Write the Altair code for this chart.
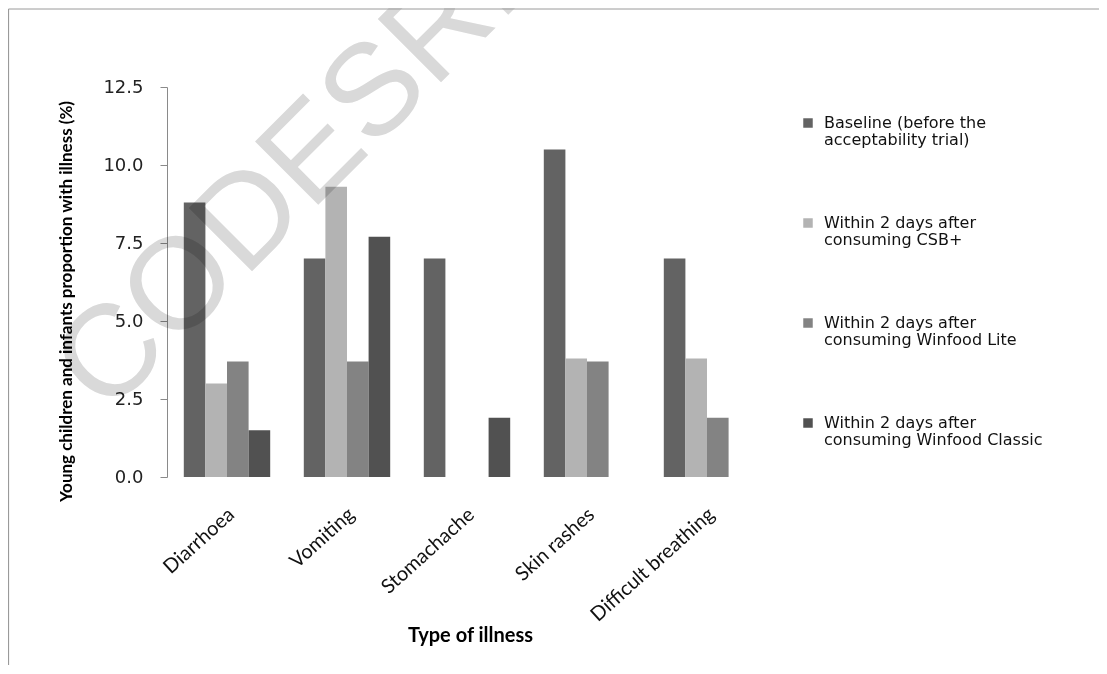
import altair as alt
import pandas as pd

illnesses = ["Diarrhoea", "Vomiting", "Stomachache", "Skin rashes", "Difficult breathing"]
series = [
    "Baseline (before the acceptability trial)",
    "Within 2 days after consuming CSB+",
    "Within 2 days after consuming Winfood Lite",
    "Within 2 days after consuming Winfood Classic",
]
series_line1 = ["Baseline (before the", "Within 2 days after", "Within 2 days after", "Within 2 days after"]
series_line2 = ["acceptability trial)", "consuming CSB+", "consuming Winfood Lite", "consuming Winfood Classic"]
baseline = [8.8, 7.0, 7.0, 10.5, 7.0]
csb = [3.0, 9.3, 0.0, 3.8, 3.8]
lite = [3.7, 3.7, 0.0, 3.7, 1.9]
classic = [1.5, 7.7, 1.9, 0.0, 0.0]
colors = ["#636363", "#b3b3b3", "#838383", "#515151"]
y_ticks = [0.0, 2.5, 5.0, 7.5, 10.0, 12.5]

rows = []
for s, vals in zip(series, [baseline, csb, lite, classic]):
    for ill, v in zip(illnesses, vals):
        rows.append({"illness": ill, "series": s, "value": v})
df = pd.DataFrame(rows)
leg_df = pd.DataFrame({"series": series, "l1": series_line1, "l2": series_line2})

W, H = 600, 390
color_scale = alt.Scale(domain=series, range=colors)

bars = alt.Chart(df).mark_bar().encode(
    x=alt.X("illness:N", sort=illnesses,
            scale=alt.Scale(paddingInner=0.28, paddingOuter=0.14),
            axis=alt.Axis(title="Type of illness", labelAngle=-42, domain=False, ticks=False,
                          labelFont="Lato", labelFontSize=20, labelColor="#111",
                          labelPadding=27, labelOffset=-2,
                          titleFont="Lato", titleFontWeight="bold", titleFontSize=20,
                          titleColor="#000", titleX=303, titleY=158, titleAnchor="middle",
                          titleBaseline="middle")),
    xOffset=alt.XOffset("series:N", sort=series, scale=alt.Scale(paddingInner=0, paddingOuter=0)),
    y=alt.Y("value:Q", scale=alt.Scale(domain=[0, 12.5], nice=False),
            axis=alt.Axis(title="Young children and infants proportion with illness (%)",
                          values=y_ticks, format=".1f", grid=False,
                          domainColor="#8a8a8a", tickColor="#8a8a8a", tickSize=7,
                          labelFont="DejaVu Sans", labelFontSize=18, labelColor="#222",
                          labelPadding=17,
                          titleFont="Lato", titleFontWeight="bold", titleFontSize=17,
                          titleColor="#000", titleX=-101, titleY=214, titleAnchor="middle",
                          titleBaseline="middle")),
    color=alt.Color("series:N", sort=series, scale=color_scale, legend=None),
)

leg_y = alt.Y("series:N", sort=series,
              scale=alt.Scale(type="point", range=[36, 336], padding=0), axis=None)
leg_sq = alt.Chart(leg_df).mark_square(size=90, opacity=1).encode(
    x=alt.value(641), y=leg_y,
    color=alt.Color("series:N", sort=series, scale=color_scale, legend=None),
)
leg_t1 = alt.Chart(leg_df).mark_text(
    align="left", baseline="middle", font="DejaVu Sans", fontSize=16, color="#111"
).encode(x=alt.value(657), y=leg_y, text="l1:N")
leg_t2 = alt.Chart(leg_df).mark_text(
    align="left", baseline="middle", font="DejaVu Sans", fontSize=16, color="#111", dy=17
).encode(x=alt.value(657), y=leg_y, text="l2:N")
legend = alt.layer(leg_sq, leg_t1, leg_t2)

wm = alt.Chart(pd.DataFrame({"t": ["CODESRIA"]})).mark_text(
    font="Liberation Sans", fontSize=130, color="#d9d9d9", angle=315,
    align="center", baseline="middle", blend="multiply"
).encode(text="t:N", x=alt.value(152), y=alt.value(62))

border = alt.Chart(pd.DataFrame({"k": [0]})).mark_rule(color="#9a9a9a", strokeWidth=1.2).encode(
    x=alt.value(-158.5), y=alt.value(-78), y2=alt.value(600)
)
border_top = alt.Chart(pd.DataFrame({"k": [0]})).mark_rule(color="#9a9a9a", strokeWidth=1).encode(
    x=alt.value(-158.5), x2=alt.value(1000), y=alt.value(-78)
)

chart = alt.layer(bars, legend, wm, border, border_top).resolve_scale(
    y="independent"
).properties(
    width=W, height=H,
    autosize=alt.AutoSizeParams(type="none"),
    padding={"left": 159, "top": 79, "right": 332, "bottom": 188},
    background="white",
).configure_view(stroke="transparent", strokeWidth=0)

chart.save("out.html", embed_options={"renderer": "svg", "actions": False})
